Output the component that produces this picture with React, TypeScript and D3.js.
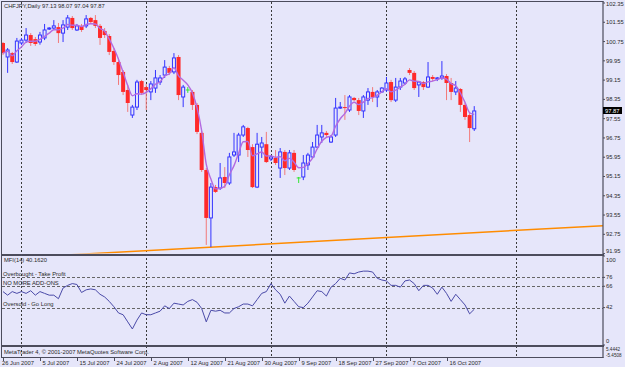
import React from "react";
import * as d3 from "d3";

// ---- data (CHFJPY, Daily) ----
const opens = [100.69,100.11,100.27,99.90,100.69,100.81,101.02,100.85,100.73,100.90,101.29,101.31,101.35,101.10,101.35,101.73,101.23,101.40,101.40,101.73,101.64,101.40,101.19,100.98,100.36,99.90,99.49,98.74,97.70,98.03,99.11,98.86,98.66,98.82,99.07,99.36,99.65,99.49,100.11,98.45,98.74,98.66,98.12,96.96,95.42,93.43,94.71,94.67,95.13,94.88,96.04,96.04,96.87,97.16,96.37,94.71,96.37,96.49,95.88,95.92,95.50,96.17,95.50,96.13,95.09,95.13,95.63,95.96,96.37,96.79,96.96,96.58,96.87,97.99,98.03,97.91,98.41,98.32,97.87,98.32,98.66,98.45,98.66,98.74,99.07,98.32,98.86,99.03,99.57,99.45,98.95,99.07,98.86,99.28,99.20,99.24,99.32,99.03,98.66,98.78,98.12,97.70,97.13];
const highs = [100.73,100.48,100.32,100.90,100.90,101.31,101.10,100.94,101.15,101.48,101.35,101.64,101.52,101.64,101.85,101.81,101.48,101.48,101.85,101.77,101.85,101.48,101.31,101.06,100.48,100.07,99.57,98.95,98.12,99.16,99.16,98.99,99.11,99.57,99.36,99.98,99.74,100.27,100.19,98.95,98.86,98.74,98.20,97.04,95.50,94.88,94.80,95.71,95.54,96.13,96.96,96.96,97.29,97.21,96.49,96.96,96.79,97.00,96.04,96.25,96.33,96.25,96.25,96.25,95.13,96.04,96.13,96.58,97.29,97.29,97.04,96.87,98.41,98.24,98.53,98.53,98.45,98.41,98.53,98.82,98.86,98.74,98.86,99.28,99.16,99.24,99.24,99.28,99.65,99.53,99.11,99.11,99.90,99.36,99.28,99.94,99.40,99.24,99.11,98.82,98.20,97.78,98.07];
const lows = [100.19,99.45,99.82,99.86,100.61,100.69,100.57,100.57,100.62,100.81,101.23,101.23,100.69,100.73,101.23,101.23,101.19,101.15,101.31,101.48,101.31,100.61,100.90,100.19,99.78,98.95,98.53,97.83,97.58,97.91,98.53,97.91,98.32,98.62,98.95,99.24,99.36,99.40,98.32,98.03,98.62,97.91,96.91,95.34,92.31,92.22,94.47,94.59,94.67,94.80,95.96,95.75,96.79,95.96,94.67,94.67,95.92,95.71,95.79,95.63,95.09,95.21,95.42,95.34,94.88,95.00,95.42,95.92,96.33,96.54,96.79,96.54,96.79,97.95,97.50,97.83,98.28,97.70,97.58,98.12,98.24,98.03,98.62,98.66,98.24,98.24,98.74,98.95,99.36,98.74,98.45,98.74,98.82,99.11,99.11,99.16,98.32,98.32,98.53,97.83,97.50,96.58,97.04];
const closes = [100.27,100.40,99.90,100.77,100.81,101.02,100.69,100.65,101.02,101.23,101.31,101.40,101.10,101.44,101.73,101.31,101.40,101.23,101.69,101.56,101.40,100.90,101.02,100.32,99.90,99.36,98.66,98.20,98.03,99.07,98.62,98.74,98.99,99.24,99.24,99.69,99.45,100.07,98.53,98.86,98.74,98.12,97.00,95.42,93.43,94.71,94.51,95.09,94.88,95.96,96.17,96.87,97.21,96.25,94.71,96.49,96.54,95.75,95.96,95.71,96.17,95.50,96.13,95.42,95.09,95.71,96.04,96.37,96.87,96.96,96.87,96.79,97.99,98.03,97.99,98.45,98.32,97.87,98.45,98.66,98.45,98.66,98.82,99.03,98.32,98.86,99.11,99.20,99.45,98.82,99.07,98.86,99.28,99.20,99.24,99.32,99.03,98.66,98.82,98.12,97.62,97.16,97.87];
const mfiValues = [60,56,60,58,60,58,61,56,60,58,56,56,52,64,67,69,68,59,62,63,62,57,54,49,43,36,34,26,18,28,36,34,34,36,38,44,41,47,46,45,49,51,48,41,26,39,38,39,36,36,41,43,46,46,44,51,58,60,69,62,57,47,55,49,43,42,47,54,61,60,55,65,69,75,73,81,80,82,83,83,82,75,73,72,67,67,65,72,73,69,61,67,67,64,57,65,58,49,57,51,45,35,40.162];

const dateLabels = ["26 Jun 2007","5 Jul 2007","15 Jul 2007","24 Jul 2007","2 Aug 2007","12 Aug 2007","21 Aug 2007","30 Aug 2007","9 Sep 2007","18 Sep 2007","27 Sep 2007","7 Oct 2007","16 Oct 2007"];
const dateLabelStep = 8; // bars between date labels
const monthGridBars = [4, 31, 58, 83, 111];
const priceTicks = [102.35,101.55,100.75,99.95,99.15,98.35,97.55,96.75,95.95,95.15,94.35,93.55,92.75,91.95];
const mfiLevels = [76, 66, 42];
const mfiLevelNames = ["Overbought - Take Profit", "NO MORE ADD-ONS", "Oversold - Go Long"];
const mfiAxisLabels = [100, 76, 66, 42, 0];
const subPanelLabels = ["5.4442", "-5.4508"];
const trendBars = [45, 130];
const trendPrices = [92.22, 93.11];
const maPeriod = 5;

const BG = "#e6e6fa";
const FONT = "'Liberation Sans', Arial, sans-serif";
const TXT = "#2a2a2a";
const BULL = "#3434ff";
const BEAR = "#ff2a2a";
const BEAR_WICK = "#f27a7a";
const DOJI = "#33e633";
const SEP = "#4c4c5c";

export default function App() {
  const x = d3.scaleLinear().domain([0, 100]).range([3, 465]);
  const yP = d3.scaleLinear().domain([91.95, 102.35]).range([253.6, 3]);
  const yM = d3.scaleLinear().domain([0, 100]).range([345, 256]);

  // linear weighted moving average of close
  const ma = closes.map((_, i) => {
    let s = 0, w = 0;
    for (let k = 0; k < maPeriod; k++) {
      const j = i - k;
      if (j < 0) break;
      const wt = maPeriod - k;
      s += closes[j] * wt;
      w += wt;
    }
    return s / w;
  });
  const maLine = d3.line<number>().x((_, i) => x(i)).y((d) => yP(d)).curve(d3.curveMonotoneX);
  const mfiLine = d3.line<number>().x((_, i) => x(i)).y((d) => yM(d));
  const trend = d3.scaleLinear().domain(trendBars).range(trendPrices);
  const tb0 = 0, tb1 = 131;

  const fs = 5.8;

  return (
    <svg width={625} height={367} style={{ position: "fixed", left: 0, top: 0, background: BG }} fontFamily={FONT}>
      <defs>
        <clipPath id="mainClip"><rect x={2} y={2} width={601} height={251.5} /></clipPath>
        <clipPath id="mfiClip"><rect x={2} y={256} width={601} height={89} /></clipPath>
      </defs>
      <rect x={0} y={0} width={625} height={367} fill={BG} />

      {/* month grid */}
      {monthGridBars.map((b) => (
        <line key={"g" + b} x1={Math.round(x(b)) + 0.5} x2={Math.round(x(b)) + 0.5} y1={2} y2={357} stroke="#3a3a3a" strokeWidth={1} strokeDasharray="2,2" />
      ))}

      {/* MFI levels */}
      {mfiLevels.map((v) => (
        <line key={"l" + v} x1={2} x2={603} y1={Math.round(yM(v)) + 0.5} y2={Math.round(yM(v)) + 0.5} stroke="#666" strokeWidth={1} strokeDasharray="3,2" />
      ))}

      {/* trend line */}
      <g clipPath="url(#mainClip)">
        <line x1={x(tb0)} y1={yP(trend(tb0))} x2={x(tb1)} y2={yP(trend(tb1))} stroke="#ff8c00" strokeWidth={1.5} />
      </g>

      {/* candles */}
      <g>
        {closes.map((c, i) => {
          const o = opens[i], h = highs[i], l = lows[i];
          const cx = x(i);
          const doji = Math.abs(c - o) < 0.005;
          const bull = c > o;
          if (doji) {
            return (
              <g key={i}>
                <line x1={cx} x2={cx} y1={yP(h)} y2={yP(l)} stroke={DOJI} strokeWidth={1} />
                <line x1={cx - 2} x2={cx + 2} y1={yP(c)} y2={yP(c)} stroke={DOJI} strokeWidth={1} />
              </g>
            );
          }
          const top = yP(Math.max(o, c));
          const bot = yP(Math.min(o, c));
          return (
            <g key={i}>
              <line x1={cx} x2={cx} y1={yP(h)} y2={yP(l)} stroke={bull ? BULL : BEAR_WICK} strokeWidth={1} />
              {bull ? (
                <rect x={cx - 1.5} y={top} width={3} height={Math.max(1, bot - top)} fill={BG} stroke={BULL} strokeWidth={1} />
              ) : (
                <rect x={cx - 2} y={top} width={4} height={Math.max(1, bot - top)} fill={BEAR} />
              )}
            </g>
          );
        })}
      </g>

      {/* moving average */}
      <path d={maLine(ma) || ""} fill="none" stroke="#b36ae0" strokeWidth={1.4} clipPath="url(#mainClip)" />

      {/* MFI */}
      <path d={mfiLine(mfiValues) || ""} fill="none" stroke="#4a4aa8" strokeWidth={1} clipPath="url(#mfiClip)" />

      {/* frames / separators */}
      <line x1={1.5} x2={1.5} y1={1} y2={357.5} stroke={SEP} strokeWidth={1} />
      <line x1={1} x2={603.5} y1={1.5} y2={1.5} stroke={SEP} strokeWidth={1} />
      <rect x={1} y={254} width={603} height={2} fill={SEP} />
      <rect x={1} y={345} width={603} height={2} fill={SEP} />
      <line x1={1} x2={603.5} y1={357.5} y2={357.5} stroke={SEP} strokeWidth={1} />
      <line x1={603} x2={603} y1={1} y2={358} stroke={SEP} strokeWidth={1.2} />

      {/* price axis */}
      {priceTicks.map((p) => {
        const yy = yP(p);
        const base = Math.min(Math.max(yy + 2, 5.5), 252.5);
        return (
          <g key={"p" + p}>
            <line x1={603} x2={605} y1={yy} y2={yy} stroke={SEP} />
            <text x={606} y={base} fontSize={fs} fill={TXT}>{p.toFixed(2)}</text>
          </g>
        );
      })}
      <rect x={603} y={107} width={19} height={7} fill="#000" />
      <text x={605} y={113} fontSize={fs} fill="#fff">{closes[closes.length - 1].toFixed(2)}</text>

      {/* MFI axis */}
      {mfiAxisLabels.map((v) => {
        const yy = yM(v);
        const base = Math.min(Math.max(yy + 1.8, 261.5), 342.5);
        return (
          <g key={"m" + v}>
            <line x1={603} x2={605} y1={yy} y2={yy} stroke={SEP} />
            <text x={606} y={base} fontSize={fs} fill={TXT}>{v}</text>
          </g>
        );
      })}
      <text x={606} y={351} fontSize={4.6} fill={TXT}>{subPanelLabels[0]}</text>
      <text x={606} y={356.5} fontSize={4.6} fill={TXT}>{subPanelLabels[1]}</text>

      {/* texts */}
      <text x={4} y={8} fontSize={fs} fill={TXT}>{`CHFJPY,Daily ${opens[opens.length - 1].toFixed(2)} ${highs[highs.length - 1].toFixed(2)} ${lows[lows.length - 1].toFixed(2)} ${closes[closes.length - 1].toFixed(2)}`}</text>
      <text x={4} y={262} fontSize={fs} fill={TXT}>{`MFI(14) ${mfiValues[mfiValues.length - 1].toFixed(4)}`}</text>
      {mfiLevels.map((v, k) => (
        <text key={"t" + v} x={3} y={yM(v) - 1.5} fontSize={fs} fill={TXT}>{mfiLevelNames[k]}</text>
      ))}
      <text x={4} y={354} fontSize={fs} fill={TXT}>MetaTrader 4, © 2001-2007 MetaQuotes Software Corp.</text>

      {/* date axis */}
      {dateLabels.map((d, k) => {
        const bx = Math.round(x(k * dateLabelStep)) + 0.5;
        return (
          <g key={"d" + k}>
            <line x1={bx} x2={bx} y1={357} y2={361} stroke={SEP} />
            <text x={k === 0 ? 2 : bx + 2} y={364.5} fontSize={fs} fill={TXT}>{d}</text>
          </g>
        );
      })}
    </svg>
  );
}
